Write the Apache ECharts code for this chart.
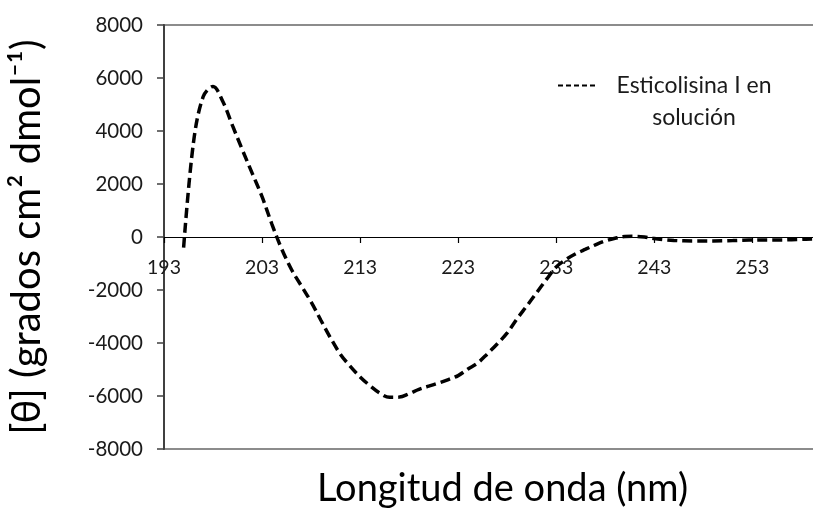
<!DOCTYPE html>
<html>
<head>
<meta charset="utf-8">
<script src="https://cdn.jsdelivr.net/npm/echarts@6/dist/echarts.min.js"></script>
<style>html,body{margin:0;padding:0;background:#fff}#c{width:813px;height:512px}</style>
</head>
<body>
<div id="c"></div>
<script>
const wavelengths = [195,196,197,198,199,200,201,202,203,204,205,206,207,208,209,210,211,212,213,214,215,216,217,218,219,220,221,222,223,224,225,226,227,228,229,230,231,232,233,234,235,236,237,238,239,240,241,242,243,244,245,246,247,248,249,250,251,252,253,254,255,256,257,258,259,260];
const ellipticity = [-400,3550,5300,5680,5110,4190,3280,2400,1520,490,-450,-1225,-1840,-2450,-3140,-3820,-4430,-4880,-5280,-5610,-5890,-6050,-6040,-5910,-5750,-5630,-5510,-5380,-5230,-4980,-4750,-4400,-4030,-3620,-3090,-2600,-2100,-1600,-1130,-850,-630,-460,-295,-150,-50,20,25,0,-60,-100,-130,-145,-150,-150,-150,-145,-135,-120,-115,-110,-110,-110,-100,-90,-75,-70];
const seriesName = 'Esticolisina I en solución';
const legendLines = ['Esticolisina I en', 'solución'];
const xTitle = 'Longitud de onda (nm)';
const yTitle = '[θ] (grados cm² dmol⁻¹)';

const chart = echarts.init(document.getElementById('c'));
chart.setOption({
  animation: false,
  backgroundColor: '#fff',
  grid: { left: 164, top: 25, width: 657, height: 424, containLabel: false, outerBoundsMode: 'none', show: true, borderColor: '#8c8c8c', borderWidth: 2, backgroundColor: 'transparent' },
  legend: {
    left: 552, top: 37, itemWidth: 40, itemHeight: 14, itemGap: 10,
    data: [{ name: seriesName }],
    itemStyle: { color: 'transparent', borderColor: 'transparent', borderWidth: 0, opacity: 0 },
    lineStyle: { width: 2, type: [5, 3], color: '#000', opacity: 1 },
    formatter: () => '{a| }\n{a|' + legendLines[0] + '}\n{a|' + legendLines[1] + '}',
    textStyle: { rich: { a: { fontFamily: 'Lato', fontSize: 23, color: '#1a1a1a', width: 182, align: 'center', lineHeight: 32 } } }
  },
  xAxis: {
    type: 'value', min: 193, max: 260, interval: 10,
    offset: -212,
    name: xTitle, nameLocation: 'middle', nameGap: 233,
    nameTextStyle: { fontFamily: 'Lato', fontSize: 38, color: '#000', padding: [0, 0, 0, 20] },
    axisLine: { onZero: false, lineStyle: { color: '#000', width: 1.2 } },
    axisTick: { show: true, length: 6, lineStyle: { color: '#000', width: 1.2 } },
    axisLabel: { fontFamily: 'Lato', fontSize: 19.5, color: '#1a1a1a', margin: 21, showMaxLabel: false, formatter: v => String(v) },
    splitLine: { show: false }
  },
  yAxis: {
    type: 'value', min: -8000, max: 8000, interval: 2000,
    name: yTitle, nameLocation: 'middle', nameGap: 117, nameRotate: 90,
    nameTextStyle: { fontFamily: 'Lato', fontSize: 40, color: '#000' },
    axisLine: { show: true, onZero: false, lineStyle: { color: '#404040', width: 2 } },
    axisTick: { show: true, length: 7, lineStyle: { color: '#404040', width: 1.5 } },
    axisLabel: { fontFamily: 'Lato', fontSize: 20.5, color: '#1a1a1a', margin: 21, formatter: v => String(v) },
    splitLine: { show: false }
  },
  series: [{
    name: seriesName, type: 'line', smooth: 0.35, symbol: 'none',
    data: wavelengths.map((w, i) => [w, ellipticity[i]]),
    lineStyle: { color: '#000', width: 3.5, type: [10, 5] },
    itemStyle: { color: '#000' }
  }]
});
</script>
</body>
</html>
